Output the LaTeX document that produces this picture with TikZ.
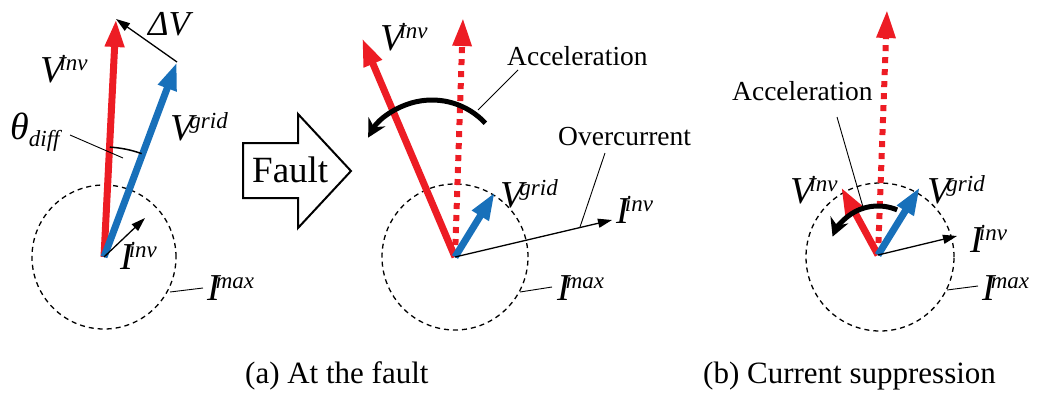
\documentclass[tikz,border=0pt]{standalone}
\usepackage{fontspec}
\setmainfont{Liberation Serif}
\usetikzlibrary{arrows.meta}
\definecolor{vred}{RGB}{237,28,36}
\definecolor{vblue}{RGB}{24,112,186}
\newcommand{\vlab}[2]{{\fontsize{38}{38}\selectfont\itshape #1\kern-4pt\raisebox{12pt}{\fontsize{23}{23}\selectfont #2}}}
\newcommand{\txt}[1]{{\fontsize{27.5}{28}\selectfont #1}}
\newcommand{\captxt}[1]{{\fontsize{31}{32}\selectfont #1}}
\begin{document}
\begin{tikzpicture}[x=1pt,y=1pt,
  lab/.style={inner sep=0pt,anchor=base west},
  thickred/.style={vred,line width=7pt,-{Triangle[length=28pt,width=18pt]}},
  thickblue/.style={vblue,line width=7pt,-{Triangle[length=28pt,width=18pt]}},
  dotred/.style={vred,line width=6pt,dash pattern=on 6pt off 6pt,-{Triangle[length=28pt,width=18pt]}},
  thinarr/.style={black,line width=1.3pt,-{Triangle[length=14pt,width=9pt]}},
  limit/.style={black,line width=1.3pt,dash pattern=on 5pt off 4pt},
  leader/.style={black,line width=0.9pt},
  accel/.style={black,line width=5pt,-{Stealth[length=18pt,width=19pt,inset=6pt]}}]
\useasboundingbox (0,-394) rectangle (1043,0);

% ---------------- left diagram ----------------
\coordinate (O1) at (104,-257);
\coordinate (Vi1) at (116,-19);
\coordinate (Vg1) at (177,-62);
\coordinate (Ii1) at (145,-218);
\draw[limit] (O1) circle[radius=72];
\draw[thickred] (O1) -- (Vi1);
\draw[thickblue] (O1) -- (Vg1);
\draw[thinarr] (O1) -- (Ii1);
\draw[thinarr] (Vg1) -- (Vi1);
\draw[black,line width=1.5pt] ([shift={(70:110)}]O1) arc[start angle=70,end angle=87,radius=110];
\node[lab] (lVi1) at (40,-82) {\vlab{V}{inv}};
\node[lab] (lVg1) at (170,-140) {\vlab{V}{grid}};
\node[lab] (ldV) at (148,-35) {\fontsize{35}{35}\selectfont\itshape ΔV};
\node[lab] (lth) at (10,-139) {{\fontsize{38}{38}\selectfont\itshape θ}\raisebox{-7pt}{\fontsize{23}{23}\selectfont\itshape diff}};
\node[lab] (lIi1) at (120,-269) {\vlab{I}{inv}};
\node[lab] (lIm1) at (207,-300) {\vlab{I}{max}};
\coordinate (th1) at (70,-135);
\coordinate (th2) at (123,-158);
\draw[leader] (th1) -- (th2);
\coordinate (im1a) at (170,-292);
\coordinate (im1b) at (203,-288);
\draw[leader] (im1a) -- (im1b);

% ---------------- fault arrow ----------------
\draw[black,line width=2pt,line join=miter] (243,-143) -- (298,-143) -- (298,-114) -- (351,-171) -- (298,-228) -- (298,-198) -- (243,-198) -- cycle;
\node[lab] (fault) at (252,-182) {\fontsize{37}{37}\selectfont Fault};

% ---------------- middle diagram ----------------
\coordinate (O2) at (455,-257);
\coordinate (Vd2) at (463,-18);
\coordinate (Vi2) at (362,-38);
\coordinate (Vg2) at (495,-192);
\coordinate (Ii2) at (612,-220);
\draw[limit] (O2) circle[radius=73];
\draw[dotred] (O2) -- (Vd2);
\draw[thickred] (O2) -- (Vi2);
\draw[thickblue] (O2) -- (Vg2);
\draw[thinarr] (O2) -- (Ii2);
\draw[accel] ([shift={(43:73)}]432,-173) arc[start angle=43,end angle=151,radius=73];
\node[lab] (lVi2) at (380,-50) {\vlab{V}{inv}};
\node[lab] (lVg2) at (500,-207) {\vlab{V}{grid}};
\node[lab] (lIi2) at (616,-223) {\vlab{I}{inv}};
\node[lab] (lIm2) at (557,-300) {\vlab{I}{max}};
\node[lab] (acc2) at (507,-65) {\txt{Acceleration}};
\node[lab] (ovc) at (558,-145) {\txt{Overcurrent}};
\coordinate (ac2a) at (478,-110);
\coordinate (ac2b) at (518,-70);
\draw[leader] (ac2a) -- (ac2b);
\coordinate (ova) at (580,-227);
\coordinate (ovb) at (605,-153);
\draw[leader] (ova) -- (ovb);
\coordinate (im2a) at (520,-292);
\coordinate (im2b) at (552,-287);
\draw[leader] (im2a) -- (im2b);

% ---------------- right diagram ----------------
\coordinate (O3) at (878,-255);
\coordinate (Vd3) at (887,-10);
\coordinate (Vi3) at (841,-187);
\coordinate (Vg3) at (920,-187);
\coordinate (Ii3) at (957,-236);
\draw[limit] (880,-257) circle[radius=74];
\draw[dotred] (O3) -- (Vd3);
\draw[thickred] (O3) -- (Vi3);
\draw[thickblue] (O3) -- (Vg3);
\draw[thinarr] (O3) -- (Ii3);
\draw[accel] ([shift={(67:49)}]O3) arc[start angle=67,end angle=158,radius=49];
\node[lab] (lVi3) at (790,-203) {\vlab{V}{inv}};
\node[lab] (lVg3) at (927,-203) {\vlab{V}{grid}};
\node[lab] (lIi3) at (970,-252) {\vlab{I}{inv}};
\node[lab] (lIm3) at (982,-300) {\vlab{I}{max}};
\node[lab] (acc3) at (732,-100) {\txt{Acceleration}};
\coordinate (ac3a) at (837,-117);
\coordinate (ac3b) at (863,-207);
\draw[leader] (ac3a) -- (ac3b);
\coordinate (im3a) at (947,-290);
\coordinate (im3b) at (978,-286);
\draw[leader] (im3a) -- (im3b);

% ---------------- captions ----------------
\node[lab] (capa) at (245,-383) {\captxt{(a) At the fault}};
\node[lab] (capb) at (703,-383) {\captxt{(b) Current suppression}};
\end{tikzpicture}
\end{document}
